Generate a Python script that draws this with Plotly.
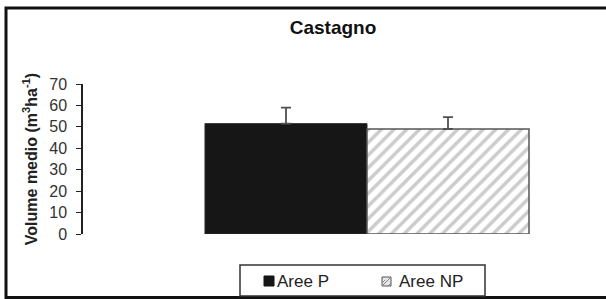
import plotly.graph_objects as go

categories = ["Castagno"]
series_names = ["Aree P", "Aree NP"]
values_p = [51.5]
values_np = [49]
err_p = [7.5]
err_np = [5.5]
y_ticks = [0, 10, 20, 30, 40, 50, 60, 70]

W, H = 606, 299
L, R, T, B = 83, 600, 84, 234

def px(x):
    return (x - L) / (R - L)

def py(y):
    return (B - y) / (B - T)

FONT = "Liberation Sans, Arial, sans-serif"

fig = go.Figure()
fig.add_trace(go.Bar(
    x=categories, y=values_p, name=series_names[0], showlegend=False,
    marker=dict(color="#161616", line=dict(color="#2a2a2a", width=1)),
    error_y=dict(type="data", array=err_p, symmetric=False, arrayminus=[0],
                 color="#505050", thickness=1.8, width=5),
))
fig.add_trace(go.Bar(
    x=categories, y=values_np, name=series_names[1], showlegend=False,
    marker=dict(color="white", line=dict(color="#555555", width=1.5),
                pattern=dict(shape="/", fgcolor="#9a9a9a", bgcolor="white",
                             size=9, solidity=0.4)),
    error_y=dict(type="data", array=err_np, symmetric=False, arrayminus=[0],
                 color="#505050", thickness=1.8, width=5),
))

shapes = [
    # outer chart border (right side lies outside the picture)
    dict(type="rect", xref="paper", yref="paper",
         x0=px(6), x1=px(640), y0=py(297.5), y1=py(8),
         line=dict(color="#111111", width=3), layer="below"),
    # legend box
    dict(type="rect", xref="paper", yref="paper",
         x0=px(240), x1=px(485), y0=py(296), y1=py(265),
         line=dict(color="#333333", width=1.5), fillcolor="white"),
    # legend key P
    dict(type="rect", xref="paper", yref="paper",
         x0=px(264), x1=px(274), y0=py(286), y1=py(276),
         line=dict(color="#111111", width=1), fillcolor="#161616"),
    # legend key NP
    dict(type="rect", xref="paper", yref="paper",
         x0=px(382), x1=px(391), y0=py(286), y1=py(277),
         line=dict(color="#555555", width=1), fillcolor="#e6e6e6"),
]
for a, b in [((382, 283), (385, 280)), ((382, 286), (391, 277)), ((388, 286), (391, 283))]:
    shapes.append(dict(type="line", xref="paper", yref="paper",
                       x0=px(a[0]), y0=py(a[1]), x1=px(b[0]), y1=py(b[1]),
                       line=dict(color="#888888", width=1)))

annotations = [
    dict(text=series_names[0], xref="paper", yref="paper", x=px(275), y=py(281),
         xanchor="left", yanchor="middle", showarrow=False,
         font=dict(family=FONT, size=17, color="#222222")),
    dict(text=series_names[1], xref="paper", yref="paper", x=px(397), y=py(281),
         xanchor="left", yanchor="middle", showarrow=False,
         font=dict(family=FONT, size=17, color="#222222")),
]

fig.update_layout(
    width=W, height=H,
    margin=dict(l=L, r=W - R, t=T, b=H - B, pad=0, autoexpand=False),
    paper_bgcolor="white", plot_bgcolor="white",
    barmode="group", bargap=0.2, bargroupgap=0,
    font=dict(family=FONT, color="#222222", size=12),
    title=dict(text="<b>Castagno</b>", x=333 / W, xref="container", xanchor="center",
               y=1 - 27 / H, yref="container", yanchor="middle",
               font=dict(size=19, color="#111111")),
    showlegend=False,
    xaxis=dict(visible=False, range=[-0.7012, 0.5753]),
    yaxis=dict(range=[0, 70], tickvals=y_ticks, ticks="outside", ticklen=5,
               tickcolor="#222222", showline=True, linecolor="#222222", linewidth=1.5,
               showgrid=False, zeroline=False, automargin=False,
               ticklabelstandoff=6,
               tickfont=dict(size=16, color="#333333"),
               title=dict(text="<b>Volume medio (m<sup>3</sup>ha<sup>-1</sup>)</b>",
                          font=dict(size=16, color="#222222"), standoff=8)),
    shapes=shapes,
    annotations=annotations,
)

fig.write_html(
    "out.html",
    config={"displayModeBar": False},
    post_script="document.body.style.margin='0';document.body.style.overflow='hidden';",
)
